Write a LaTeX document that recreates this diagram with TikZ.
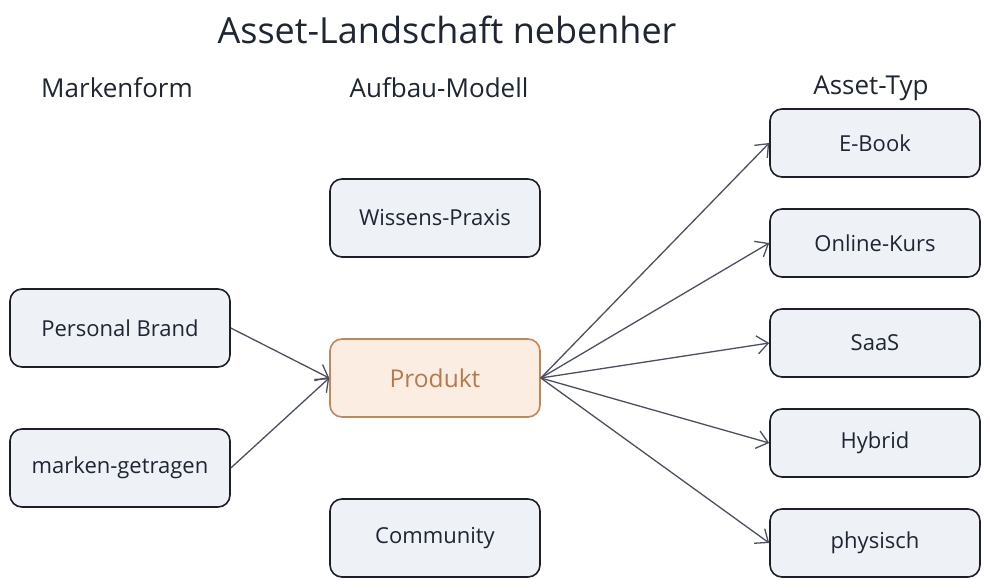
\documentclass[tikz,border=0pt]{standalone}
\usepackage{fontspec}
\setmainfont{Open Sans}
\usetikzlibrary{arrows.meta}
\definecolor{inkc}{HTML}{1E2533}
\definecolor{boxfill}{HTML}{EEF1F5}
\definecolor{boxline}{HTML}{1E1E28}
\definecolor{prodfill}{HTML}{FBEDE2}
\definecolor{prodline}{HTML}{C0875A}
\definecolor{prodtext}{HTML}{B57A4C}
\definecolor{arrc}{HTML}{4A5060}
\tikzset{
  box/.style={draw=boxline, fill=boxfill, line width=1.6pt, rounded corners=12pt,
    minimum width=220pt, minimum height=78pt, inner sep=0pt, text=inkc,
    font=\fontsize{22}{26}\selectfont},
  rbox/.style={box, minimum width=210pt, minimum height=68pt},
  mbox/.style={box, minimum width=210pt},
  prod/.style={mbox, draw=prodline, fill=prodfill, text=prodtext, font=\fontsize{24.5}{28}\selectfont},
  head/.style={text=inkc, font=\fontsize{26}{30}\selectfont, inner sep=0pt},
  ttl/.style={text=inkc, font=\fontsize{36}{40}\selectfont, inner sep=0pt},
  conn/.style={draw=arrc, line width=1.3pt, -{Straight Barb[length=11pt,width=18pt,line width=1.3pt]}}
}
\begin{document}
\begin{tikzpicture}[x=1pt,y=-1pt]
\useasboundingbox (0,0) rectangle (990,588);
\fill[white] (0,0) rectangle (990,588);
\node[ttl] (title) at (447,30) {Asset-Landschaft nebenher};
\node[head] (h1) at (117,88) {Markenform};
\node[head] (h2) at (439,88) {Aufbau-Modell};
\node[head] (h3) at (871,88) {Asset-Typ};

\node[box] (pb) at (120,328) {Personal Brand};
\node[box] (mg) at (120,468) {marken-getragen};

\node[mbox] (wp) at (435,218) {Wissens-Praxis};
\node[prod] (pr) at (435,378) {Produkt};
\node[mbox] (co) at (435,538) {Community};

\node[rbox] (eb) at (875,143) {E-Book};
\node[rbox] (ok) at (875,243) {Online-Kurs};
\node[rbox] (sa) at (875,343) {SaaS};
\node[rbox] (hy) at (875,443) {Hybrid};
\node[rbox] (ph) at (875,543) {physisch};

\draw[conn] (pb.east) -- (pr.west);
\draw[conn] (mg.east) -- (pr.west);
\foreach \t in {eb,ok,sa,hy,ph} \draw[conn] (pr.east) -- (\t.west);
\end{tikzpicture}
\end{document}
